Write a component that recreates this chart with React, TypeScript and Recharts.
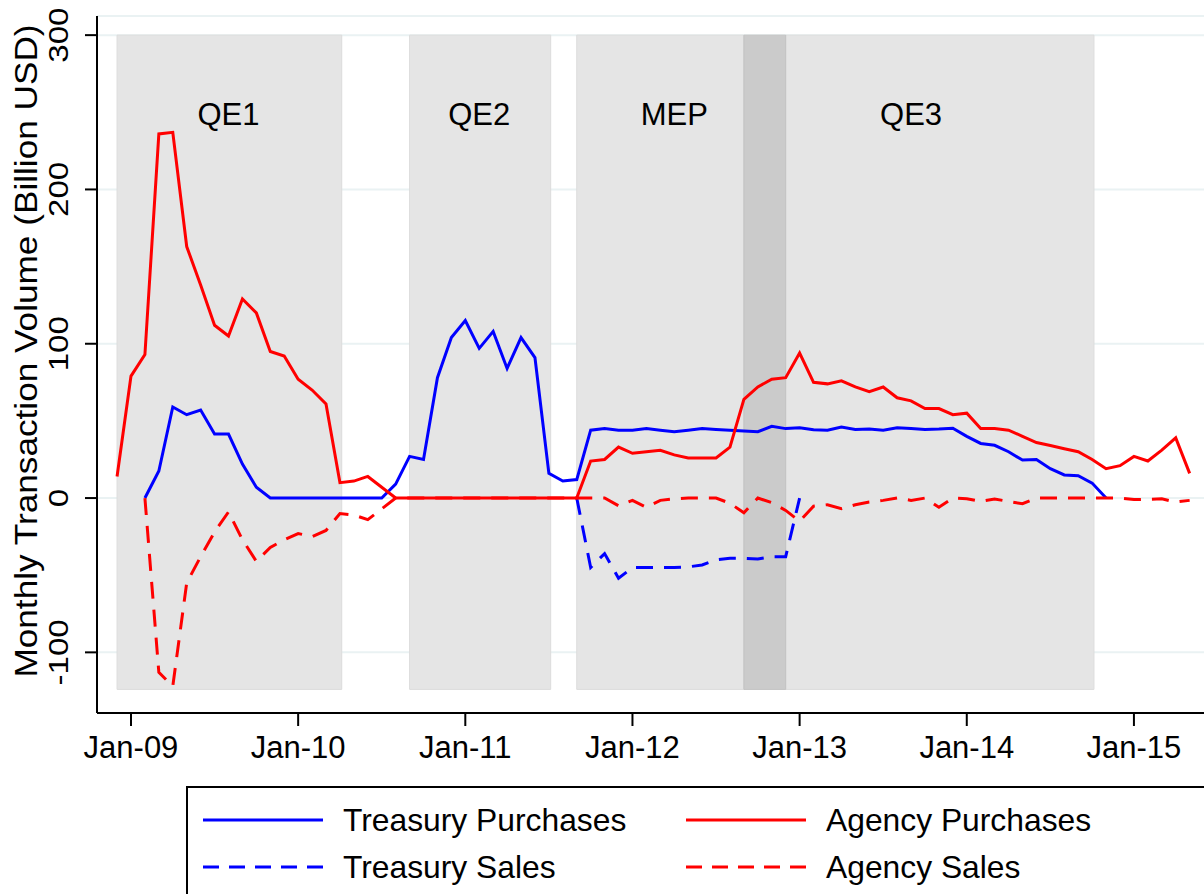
import { LineChart, Line, XAxis, YAxis, CartesianGrid, ReferenceArea, ReferenceDot } from 'recharts'

// month index: 0 = Jan-09, series run from -1 (Dec-08) to 76 (May-15)
const months = Array.from({ length: 78 }, (_, i) => i - 1)

const tickMonths = [0, 12, 24, 36, 48, 60, 72]
const tickLabels = ['Jan-09', 'Jan-10', 'Jan-11', 'Jan-12', 'Jan-13', 'Jan-14', 'Jan-15']
const yTicks = [300, 200, 100, 0, -100]

const agencyPurchases = [
  14, 79, 93, 236, 237, 163, 138, 112, 105, 129, 120, 95, 92, 77, 70, 61, 10, 11, 14, 7,
  0, 0, 0, 0, 0, 0, 0, 0, 0, 0, 0, 0, 0, 0,
  24, 25, 33, 29, 30, 31, 28, 26, 26, 26, 33,
  64, 72, 77, 78, 94, 75, 74, 76, 72, 69, 72, 65, 63, 58, 58, 54, 55,
  45, 45, 44, 40, 36, 34, 32, 30, 25, 19, 21, 27, 24, 31, 39, 16,
]

const treasuryPurchases = [
  null, null,
  0, 17.5, 59, 54, 57, 41.5, 41.5, 22, 7,
  0, 0, 0, 0, 0, 0, 0, 0, 0,
  9, 27, 25, 78, 104, 115, 97, 108, 84, 104, 91, 16, 11, 12,
  44, 45, 44, 44, 45, 44, 43, 44, 45, 44.5, 44, 43.5, 43, 46.5, 45, 45.6,
  44.3, 44, 46, 44.5, 44.7, 44, 45.6, 45, 44.5, 44.7, 45.2,
  40, 35.4, 34.2, 30, 24.6, 25, 19, 15, 14.5, 9.7, 0,
  null, null, null, null, null, null,
]

const agencySales = [
  null, null,
  0, -113, -122, -55, -38, -22, -9, -27, -41,
  -32, -27, -23, -25, -21, -10, -11, -14, -7,
  0, 0, 0, 0, 0, 0, 0, 0, 0, 0, 0, 0, 0, 0, 0, 0,
  -5, -1.5, -6, -1.5, -0.5, 0, 0, 0, -3.4, -9.5, 0, -3, -8, -15,
  -5.3, -4.3, -6.9, -4.3, -2.6, -1.5, 0, -1.5, 0, -6, 0,
  -0.4, -2.2, -0.6, -2.2, -3.7, 0, 0, 0, 0, 0, 0, 0, -1, -0.8, -0.5, -2.6, -1.5,
]

const treasurySales = [
  ...Array(33).fill(null),
  0, -45, -36, -52, -45, -45, -45, -45, -44.6, -43.4, -40, -39, -39, -39.5, -38, -38, 0,
  ...Array(28).fill(null),
]

// shaded programme periods (month index)
const periodStart = [-1, 20, 32, 47]
const periodEnd = [15.13, 30.13, 44, 69.13]
const overlapStart = 44
const overlapEnd = 47
const shadeBottom = -124
const shadeTop = 300

const periodLabels = ['QE1', 'QE2', 'MEP', 'QE3']
const labelMonth = [7, 25, 39, 56]
const labelValue = 249

const data = months.map((m, i) => ({
  m,
  tp: treasuryPurchases[i],
  ts: treasurySales[i],
  ap: agencyPurchases[i],
  as: agencySales[i],
}))

const FONT = '"Liberation Sans", Arial, Helvetica, sans-serif'
const BLUE = '#0000ff'
const RED = '#ff0000'
const DASH = '17 11'

function XTick({ x, payload }: any) {
  const label = tickLabels[tickMonths.indexOf(payload.value)]
  return (
    <text x={x} y={758} textAnchor="middle" fontSize={31} fill="#000" fontFamily={FONT}>
      {label}
    </text>
  )
}

function YTick({ y, payload }: any) {
  return (
    <text
      transform={`translate(68,${y}) rotate(-90) scale(1.18,1)`}
      textAnchor="middle"
      fontSize={28}
      fill="#000"
      fontFamily={FONT}
    >
      {payload.value}
    </text>
  )
}

function YTitle() {
  return (
    <text
      transform="translate(37,351) rotate(-90) scale(1.1,1)"
      textAnchor="middle"
      fontSize={32}
      fill="#000"
      fontFamily={FONT}
    >
      Monthly Transaction Volume (Billion USD)
    </text>
  )
}

function PeriodLabel({ cx, cy, text }: any) {
  return (
    <text x={cx} y={cy + 11} textAnchor="middle" fontSize={31} fill="#000" fontFamily={FONT}>
      {text}
    </text>
  )
}

function Legend() {
  const rows = [
    { y: 820, color: BLUE, dash: undefined, label: 'Treasury Purchases', x: 203 },
    { y: 820, color: RED, dash: undefined, label: 'Agency Purchases', x: 686 },
    { y: 867, color: BLUE, dash: '16 10', label: 'Treasury Sales', x: 203 },
    { y: 867, color: RED, dash: '16 10', label: 'Agency Sales', x: 686 },
  ]
  return (
    <svg width={1204} height={894} style={{ position: 'absolute', left: 0, top: 0 }}>
      <rect x={187} y={787} width={1100} height={200} fill="#fff" stroke="#000" strokeWidth={2} />
      {rows.map((r) => (
        <g key={r.label}>
          <line x1={r.x} x2={r.x + 120} y1={r.y} y2={r.y} stroke={r.color} strokeWidth={3} strokeDasharray={r.dash} />
          <text x={r.x + 140} y={r.y + 11} fontSize={31.8} fill="#000" fontFamily={FONT}>
            {r.label}
          </text>
        </g>
      ))}
    </svg>
  )
}

export default function App() {
  return (
    <div style={{ position: 'absolute', left: 0, top: 0, width: 1204, height: 894, background: '#fff' }}>
      <LineChart width={1204} height={894} data={data} margin={{ top: 16, right: 0, left: 0, bottom: 121 }}>
        <CartesianGrid vertical={false} stroke="#eaf2f3" strokeWidth={2} />
        <XAxis
          dataKey="m"
          type="number"
          domain={[-2.44, 77.03]}
          allowDataOverflow
          ticks={tickMonths}
          tick={<XTick />}
          tickSize={13}
          height={60}
          axisLine={{ stroke: '#000', strokeWidth: 2 }}
          tickLine={{ stroke: '#000', strokeWidth: 2 }}
        />
        <YAxis
          type="number"
          domain={[-139.3, 312.4]}
          allowDataOverflow
          ticks={yTicks}
          tick={<YTick />}
          tickSize={12}
          width={97}
          axisLine={{ stroke: '#000', strokeWidth: 2 }}
          tickLine={{ stroke: '#000', strokeWidth: 2 }}
          label={<YTitle />}
        />
        {periodStart.map((s, i) => (
          <ReferenceArea
            key={i}
            x1={s}
            x2={periodEnd[i]}
            y1={shadeBottom}
            y2={shadeTop}
            fill="#e5e5e5"
            fillOpacity={1}
            stroke="#dcdcdc"
            strokeWidth={1}
            ifOverflow="visible"
          />
        ))}
        <ReferenceArea
          x1={overlapStart}
          x2={overlapEnd}
          y1={shadeBottom}
          y2={shadeTop}
          fill="#cbcbcb"
          fillOpacity={1}
          stroke="#c2c2c2"
          strokeWidth={1}
          ifOverflow="visible"
        />
        {periodLabels.map((t, i) => (
          <ReferenceDot
            key={t}
            x={labelMonth[i]}
            y={labelValue}
            r={0}
            ifOverflow="visible"
            shape={(p: any) => <PeriodLabel cx={p.cx} cy={p.cy} text={t} />}
          />
        ))}
        <Line dataKey="tp" stroke={BLUE} strokeWidth={3} dot={false} isAnimationActive={false} strokeLinejoin="miter" />
        <Line dataKey="ts" stroke={BLUE} strokeWidth={3} strokeDasharray={DASH} dot={false} isAnimationActive={false} />
        <Line dataKey="ap" stroke={RED} strokeWidth={3} dot={false} isAnimationActive={false} strokeLinejoin="miter" />
        <Line dataKey="as" stroke={RED} strokeWidth={3} strokeDasharray={DASH} dot={false} isAnimationActive={false} />
      </LineChart>
      <Legend />
    </div>
  )
}
